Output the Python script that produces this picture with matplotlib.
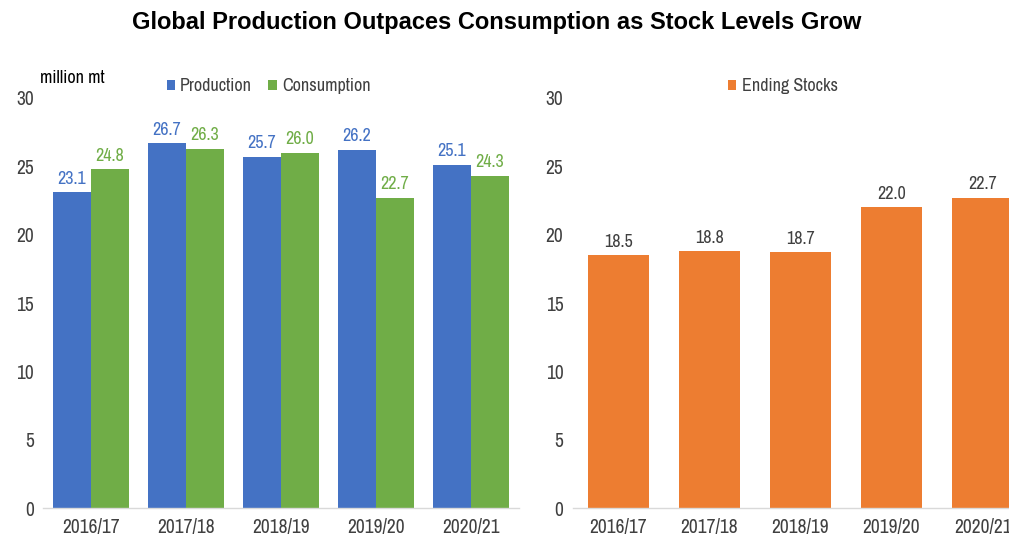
import matplotlib
matplotlib.use("Agg")
import matplotlib.pyplot as plt
import numpy as np

years       = ["2016/17", "2017/18", "2018/19", "2019/20", "2020/21"]
production  = [23.1, 26.7, 25.7, 26.2, 25.1]
consumption = [24.8, 26.3, 26.0, 22.7, 24.3]
stocks      = [18.5, 18.8, 18.7, 22.0, 22.7]
yticks      = [0, 5, 10, 15, 20, 25, 30]

BLUE   = "#4472C4"
GREEN  = "#70AD47"
ORANGE = "#ED7D31"
TEXT   = "#404040"

plt.rcParams["font.family"] = ["Liberation Sans Narrow", "Archivo Narrow", "Roboto Condensed",
                               "PT Sans Narrow", "Liberation Sans", "DejaVu Sans"]

fig = plt.figure(figsize=(10.09, 5.42), dpi=100)
fig.patch.set_facecolor("white")

fig.text(0.4925, 0.958, "Global Production Outpaces Consumption as Stock Levels Grow",
         ha="center", va="center", fontsize=17, fontweight="bold", color="black",
         family=["Liberation Sans", "DejaVu Sans"])


def style_axis(ax):
    ax.set_ylim(0, 30)
    ax.set_yticks(yticks)
    ax.set_xlim(-0.5, 4.5)
    for side in ["top", "right", "left"]:
        ax.spines[side].set_visible(False)
    ax.spines["bottom"].set_color("#D9D9D9")
    ax.spines["bottom"].set_linewidth(1.0)
    ax.tick_params(axis="both", length=0, labelsize=14, colors=TEXT)
    ax.tick_params(axis="y", pad=7)
    ax.tick_params(axis="x", pad=7)


# ── Left: production vs consumption ───────────────────────
ax1 = fig.add_axes([0.0431, 0.0627, 0.4708, 0.7565])
x = np.arange(len(years))
w = 0.4
b1 = ax1.bar(x - w / 2, production, w, color=BLUE, label="Production")
b2 = ax1.bar(x + w / 2, consumption, w, color=GREEN, label="Consumption")
style_axis(ax1)
ax1.set_xticks(x)
ax1.set_xticklabels(years)
ax1.bar_label(b1, fmt="%.1f", padding=4, fontsize=13, color=BLUE)
ax1.bar_label(b2, fmt="%.1f", padding=4, fontsize=13, color=GREEN)
ax1.legend(loc="upper left", bbox_to_anchor=(0.225, 1.088), ncol=2, frameon=False,
           fontsize=13, handlelength=0.45, handleheight=0.45, handletextpad=0.3,
           columnspacing=0.9, labelcolor=TEXT)
fig.text(0.040, 0.857, "million mt", fontsize=13, color="black", ha="left", va="center")

# ── Right: ending stocks ──────────────────────────────────
ax2 = fig.add_axes([0.5679, 0.0627, 0.451, 0.7565])
b3 = ax2.bar(x, stocks, 0.67, color=ORANGE, label="Ending Stocks")
style_axis(ax2)
ax2.set_xticks(x)
ax2.set_xticklabels(years)
ax2.bar_label(b3, fmt="%.1f", padding=4, fontsize=13, color=TEXT)
ax2.legend(loc="upper left", bbox_to_anchor=(0.305, 1.088), frameon=False,
           fontsize=13, handlelength=0.45, handleheight=0.45, handletextpad=0.3,
           labelcolor=TEXT)

plt.savefig("out.png", dpi=100)
